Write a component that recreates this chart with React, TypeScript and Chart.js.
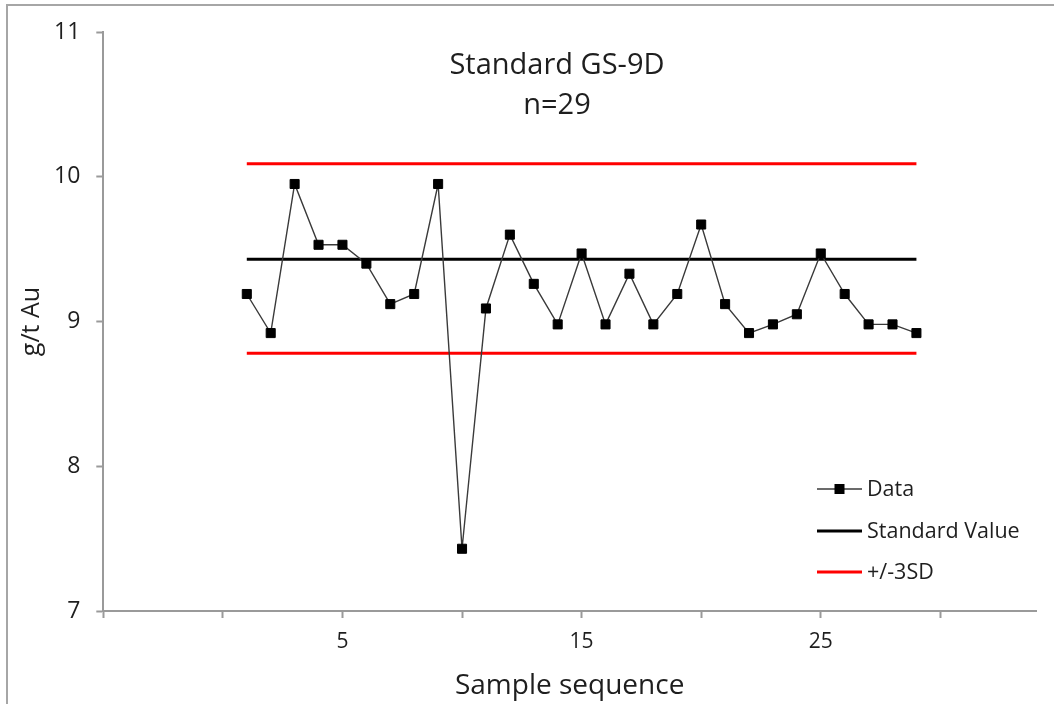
import React, { useEffect, useRef } from 'react';
import { Chart, registerables } from 'chart.js';

Chart.register(...registerables);

// ---- Data ----
const sampleSequence = [1, 2, 3, 4, 5, 6, 7, 8, 9, 10, 11, 12, 13, 14, 15, 16, 17, 18, 19, 20, 21, 22, 23, 24, 25, 26, 27, 28, 29];
const auGrades = [9.19, 8.92, 9.95, 9.53, 9.53, 9.40, 9.12, 9.19, 9.95, 7.43, 9.09, 9.60, 9.26, 8.98, 9.47, 8.98, 9.33, 8.98, 9.19, 9.67, 9.12, 8.92, 8.98, 9.05, 9.47, 9.19, 8.98, 8.98, 8.92];
const standardValue = 9.43;
const upperLimit = 10.09;
const lowerLimit = 8.78;
const xLabeledTicks = [5, 15, 25];
const titleLines = ['Standard GS-9D', 'n=29'];
const seriesLabels = ['Data', 'Standard Value', '+/-3SD'];
const xAxisTitle = 'Sample sequence';
const yAxisTitle = 'g/t Au';

const FONT = '"Open Sans", "Noto Sans", sans-serif';
const TEXT = '#1e1e1e';
const AXIS = '#9a9a9a';

const overlayPlugin = {
  id: 'overlay',
  afterDraw(chart: any) {
    const { ctx } = chart;
    ctx.save();
    // title inside plot
    ctx.fillStyle = TEXT;
    ctx.font = `29px ${FONT}`;
    ctx.textAlign = 'center';
    ctx.textBaseline = 'middle';
    titleLines.forEach((t, i) => ctx.fillText(t, 557, 66 + i * 40));

    // legend inside plot
    const seen = new Set<string>();
    const items: any[] = [];
    chart.data.datasets.forEach((ds: any) => {
      if (!seen.has(ds.label)) {
        seen.add(ds.label);
        items.push(ds);
      }
    });
    const x0 = 817;
    const x1 = 862;
    const ys = [489, 531, 572];
    ctx.font = `21.5px ${FONT}`;
    ctx.textAlign = 'left';
    items.forEach((ds, i) => {
      const y = ys[i];
      ctx.strokeStyle = ds.borderColor;
      ctx.lineWidth = ds.borderWidth;
      ctx.beginPath();
      ctx.moveTo(x0, y);
      ctx.lineTo(x1, y);
      ctx.stroke();
      if (ds.pointRadius > 0) {
        ctx.fillStyle = ds.pointBackgroundColor;
        const s = 10;
        ctx.fillRect((x0 + x1) / 2 - s / 2, y - s / 2, s, s);
      }
      ctx.fillStyle = TEXT;
      ctx.fillText(ds.label, 867, y + 1);
    });
    ctx.restore();
  },
};

export default function App() {
  const ref = useRef<HTMLCanvasElement | null>(null);

  useEffect(() => {
    if (!ref.current) return;
    const first = sampleSequence[0];
    const last = sampleSequence[sampleSequence.length - 1];
    const chart = new Chart(ref.current, {
      type: 'line',
      data: {
        datasets: [
          {
            label: seriesLabels[0],
            data: sampleSequence.map((x, i) => ({ x, y: auGrades[i] })),
            borderColor: '#3a3a3a',
            borderWidth: 1.4,
            pointStyle: 'rect',
            pointRadius: 6.4,
            pointBackgroundColor: '#000',
            pointBorderColor: '#000',
            pointBorderWidth: 1,
            tension: 0,
            order: 0,
          },
          {
            label: seriesLabels[1],
            data: [{ x: first, y: standardValue }, { x: last, y: standardValue }],
            borderColor: '#000',
            borderWidth: 3,
            pointRadius: 0,
            order: 1,
          },
          {
            label: seriesLabels[2],
            data: [{ x: first, y: upperLimit }, { x: last, y: upperLimit }],
            borderColor: '#ff0000',
            borderWidth: 3,
            pointRadius: 0,
            order: 2,
          },
          {
            label: seriesLabels[2],
            data: [{ x: first, y: lowerLimit }, { x: last, y: lowerLimit }],
            borderColor: '#ff0000',
            borderWidth: 3,
            pointRadius: 0,
            order: 2,
          },
        ],
      },
      options: {
        responsive: false,
        animation: false,
        layout: { padding: { left: 0, top: 32, right: 18, bottom: 0 } },
        plugins: {
          legend: { display: false },
          title: { display: false },
          tooltip: { enabled: false },
        },
        scales: {
          x: {
            type: 'linear',
            min: -5,
            max: 34,
            afterFit: (s: any) => { s.height = 93; },
            border: { color: AXIS, width: 2 },
            grid: { drawOnChartArea: false, drawTicks: true, tickLength: 7, color: AXIS, tickWidth: 2 },
            ticks: {
              stepSize: 5,
              includeBounds: false,
              autoSkip: false,
              maxRotation: 0,
              padding: 11,
              color: TEXT,
              font: { family: FONT, size: 21 },
              callback: (v: any) => (xLabeledTicks.includes(Number(v)) ? String(v) : ''),
            },
            title: {
              display: true,
              text: xAxisTitle,
              color: TEXT,
              font: { family: FONT, size: 28 },
              padding: { top: 0, bottom: 1 },
            },
          },
          y: {
            type: 'linear',
            min: 7,
            max: 11,
            afterFit: (s: any) => { s.width = 103.3; },
            border: { color: AXIS, width: 2 },
            grid: { drawOnChartArea: false, drawTicks: true, tickLength: 7, color: AXIS, tickWidth: 2 },
            ticks: {
              stepSize: 1,
              padding: 16,
              color: TEXT,
              font: { family: FONT, size: 23 },
            },
            title: {
              display: true,
              text: yAxisTitle,
              color: TEXT,
              font: { family: FONT, size: 25 },
              padding: { top: 17, bottom: 0 },
            },
          },
        },
      },
      plugins: [overlayPlugin],
    } as any);
    return () => chart.destroy();
  }, []);

  return (
    <>
      <canvas
        ref={ref}
        width={1054}
        height={704}
        style={{ position: 'fixed', left: 0, top: 0, width: 1054, height: 704 }}
      />
      <div
        style={{
          position: 'fixed',
          left: 6,
          top: 4,
          width: 1200,
          height: 900,
          border: '2px solid #a6a6a6',
          pointerEvents: 'none',
        }}
      />
    </>
  );
}
